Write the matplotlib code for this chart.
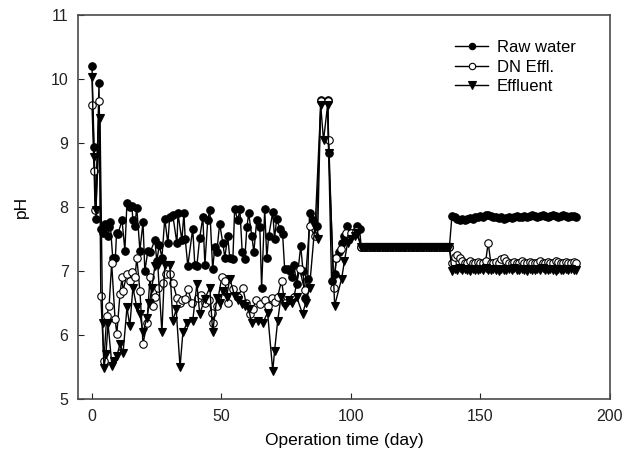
import matplotlib
matplotlib.use("Agg")
import matplotlib.pyplot as plt

plt.rcParams['font.family'] = ['Liberation Sans', 'DejaVu Sans']

# ---------------- data ----------------
raw_day = [0, 0.8, 1.5, 2.7, 3.4, 4.2, 5, 6, 6.5, 7, 8, 9, 9.5, 10, 11.6, 12.7, 13.5, 14.5, 15.4, 15.8,
           16.5, 17.3, 18.5, 19.7, 20.4, 21.6, 22.5, 24.3, 25, 26, 27, 28.1, 29.3, 30, 31.2, 32.8,
           33.2, 34.7, 35.5, 36, 37, 38.9, 39.7, 40.5, 41.6, 42.8, 43.6, 44.7, 45.5, 46.6, 47.4,
           48.2, 49.3, 50.5, 51.3, 52.4, 53.2, 54.4, 55.1, 56.3, 57.1, 58, 59, 59.8, 60.5, 61.7,
           62.5, 63.6, 64.8, 65.5, 66.7, 67.5, 68.2, 69.8, 70.5, 71.3, 72.5, 73.6, 74.4, 75.6,
           76.5, 77.1, 78, 79, 80.6, 81.5, 82.1, 83.3, 84, 85.2, 86.7, 88.4, 91, 91.4, 92.5,
           93.7, 94.4, 95.5, 96.4, 97.5, 98.3, 100, 101.4, 102.5, 103.3]
raw_ph = [10.2, 8.93, 7.82, 9.94, 7.65, 7.6, 7.74, 7.55, 7.68, 7.76, 7.21, 7.2, 7.6, 7.58, 7.79, 7.32, 8.07, 8.0, 8.02, 7.79,
          7.7, 7.99, 7.32, 7.76, 7.0, 7.32, 7.3, 7.48, 7.16, 7.4, 7.21, 7.82, 7.43, 7.85, 7.87, 7.43,
          7.9, 7.48, 7.9, 7.5, 7.08, 7.66, 7.1, 7.08, 7.52, 7.84, 7.1, 7.8, 7.95, 7.03, 7.37,
          7.3, 7.74, 7.44, 7.21, 7.55, 7.2, 7.19, 7.97, 7.79, 7.97, 7.3, 7.19, 7.68, 7.9, 7.55,
          7.3, 7.79, 7.68, 6.74, 7.97, 7.2, 7.54, 7.92, 7.5, 7.82, 7.66, 7.58, 7.03, 7.03,
          7.0, 6.9, 7.1, 6.8, 7.39, 7.0, 6.58, 6.88, 7.9, 7.79, 7.71, 9.67, 9.67, 8.84, 6.85,
          6.96, 7.21, 7.3, 7.44, 7.55, 7.71, 7.6, 7.58, 7.7, 7.66]

dn_day = [0, 0.8, 1.2, 2.8, 3.4, 4.6, 5.7, 6.6, 7.6, 8.9, 9.6, 10.8, 11.6, 12, 13.5, 14.5, 15.4, 16.6,
          17.3, 18.5, 19.7, 21.2, 22.4, 23.5, 24.5, 25.4, 27.4, 28.5, 30, 31.2, 32.8, 33.9, 34.7,
          35.9, 37, 38.6, 40.9, 42.2, 43.6, 45, 46.3, 46.6, 48.2, 50.1, 51.3, 52.4, 54.4, 56.3, 58.2,
          59.5, 60.9, 62, 63.5, 64.8, 66.7, 68, 69.4, 70.5, 71.7, 73.2, 74.4, 76.3, 78, 80.2, 82.1, 84, 86,
          88.4, 91, 91.4, 93.3, 94.4, 96, 98, 100, 102]
dn_ph = [9.6, 8.57, 7.95, 9.65, 6.61, 5.6, 6.3, 6.45, 7.12, 6.25, 6.02, 6.64, 6.9, 6.69, 6.96, 6.85, 6.98, 6.9,
         7.21, 6.69, 5.86, 6.18, 6.9, 6.46, 6.6, 6.74, 6.82, 6.96, 6.96, 6.82, 6.58, 6.5, 6.55,
         6.57, 6.72, 6.5, 6.58, 6.62, 6.5, 6.55, 6.35, 6.19, 6.46, 6.9, 6.85, 6.5, 6.72, 6.6, 6.74,
         6.5, 6.33, 6.4, 6.55, 6.49, 6.55, 6.45, 6.58, 6.52, 6.6, 6.85, 6.5, 6.55, 6.6, 7.03, 6.7, 7.7, 7.55,
         9.65, 9.65, 9.05, 6.73, 7.2, 7.35, 7.6, 7.6, 7.62]

eff_day = [0, 0.8, 1.5, 3.1, 4.1, 4.6, 5.4, 6.2, 7.7, 8.6, 9.6, 10.8, 12, 13.5, 14.6, 15.8, 17.3,
           18.5, 19.7, 21.2, 22.2, 23.1, 24.3, 25.4, 27, 28.1, 30, 31.2, 32.5, 34, 35.1, 36.6, 38.9,
           40.5, 41.6, 43.6, 45.5, 46.6, 48.2, 49.5, 50.5, 52, 53.2, 55.1, 56.5, 57.8, 59, 60.5, 61.7, 64,
           65.9, 67.8, 69.8, 70.5, 71.7, 73, 74.4, 76, 77.1, 79, 81.3, 82.5, 84, 86, 87.1, 88.3, 89.4, 91,
           91.4, 93.7, 96.4, 97.5, 98.7, 100, 101.4, 102.5]
eff_ph = [10.03, 8.78, 7.95, 9.39, 6.18, 5.49, 5.7, 6.18, 5.52, 5.6, 5.67, 5.86, 5.72, 6.43, 6.14, 6.74, 6.43,
          6.33, 6.04, 6.27, 6.5, 6.74, 7.08, 7.1, 6.04, 7.1, 7.1, 6.22, 6.4, 5.5, 6.04, 6.18, 6.22,
          6.8, 6.33, 6.57, 6.74, 6.04, 6.58, 6.5, 6.69, 6.6, 6.88, 6.61, 6.55, 6.49, 6.46, 6.4, 6.18, 6.22,
          6.18, 6.35, 5.44, 5.75, 6.22, 6.6, 6.46, 6.55, 6.5, 6.6, 6.33, 6.5, 6.74, 7.68, 7.5, 9.6, 9.04, 9.6,
          8.84, 6.46, 6.88, 7.16, 7.44, 7.5, 7.55, 7.6]

# plateau period (all three series identical)
flat_day = list(range(104, 139))
flat_ph = [7.37] * len(flat_day)

# final stable period
late_day = list(range(139, 188))
raw_late = [7.86, 7.84, 7.82, 7.80, 7.81, 7.80, 7.82, 7.83, 7.82, 7.84, 7.85, 7.86, 7.85, 7.87,
            7.88, 7.86, 7.85, 7.84, 7.83, 7.84, 7.82, 7.83, 7.84, 7.83, 7.85, 7.86, 7.84, 7.85,
            7.86, 7.85, 7.86, 7.87, 7.86, 7.85, 7.86, 7.87, 7.86, 7.85, 7.86, 7.87, 7.86, 7.85,
            7.86, 7.87, 7.86, 7.85, 7.86, 7.86, 7.85]
dn_late = [7.12, 7.22, 7.25, 7.2, 7.15, 7.13, 7.12, 7.15, 7.13, 7.12, 7.14, 7.12, 7.13, 7.15,
           7.44, 7.13, 7.12, 7.14, 7.13, 7.18, 7.2, 7.15, 7.13, 7.12, 7.14, 7.13, 7.12, 7.15,
           7.13, 7.12, 7.14, 7.13, 7.12, 7.13, 7.15, 7.13, 7.12, 7.14, 7.13, 7.12, 7.15, 7.14,
           7.12, 7.13, 7.14, 7.12, 7.13, 7.14, 7.12]
eff_late = [7.0, 7.03, 7.02, 7.04, 7.01, 7.03, 7.02, 7.0, 7.03, 7.02, 7.01, 7.03, 7.02, 7.04,
            7.02, 7.01, 7.03, 7.02, 7.0, 7.03, 7.02, 7.01, 7.03, 7.02, 7.04, 7.02, 7.01, 7.03,
            7.02, 7.0, 7.03, 7.02, 7.01, 7.03, 7.02, 7.04, 7.02, 7.01, 7.03, 7.02, 7.0, 7.03,
            7.02, 7.01, 7.03, 7.02, 7.03, 7.02, 7.01]

labels = ["Raw water", "DN Effl.", "Effluent"]
x_ticks = [0, 50, 100, 150, 200]
y_ticks = [5, 6, 7, 8, 9, 10, 11]

# ---------------- figure ----------------
fig = plt.figure(figsize=(6.4, 4.59), dpi=100)
ax = fig.add_axes([0.1223, 0.1307, 0.8307, 0.8366])

ms = 5.4
raw_x = raw_day + flat_day + late_day
raw_y = raw_ph + flat_ph + raw_late
dn_x = dn_day + flat_day + late_day
dn_y = dn_ph + flat_ph + dn_late
eff_x = eff_day + flat_day + late_day
eff_y = eff_ph + flat_ph + eff_late

ax.plot(raw_x, raw_y, color='black', lw=1.0, marker='o', ms=ms,
        mfc='black', mec='black', mew=0.8, label=labels[0])
ax.plot(dn_x, dn_y, color='black', lw=1.0, marker='o', ms=ms,
        mfc='white', mec='black', mew=0.8, label=labels[1])
ax.plot(eff_x, eff_y, color='black', lw=1.0, marker='v', ms=ms + 0.8,
        mfc='black', mec='black', mew=0.8, label=labels[2])

ax.set_xlim(-5.3, 200)
ax.set_ylim(5, 11)
ax.set_xticks(x_ticks)
ax.set_yticks(y_ticks)
ax.tick_params(direction='in', length=4, width=0.8, labelsize=11.5, colors='#222222', pad=7)
for s in ax.spines.values():
    s.set_color('#4a4a4a')
    s.set_linewidth(1.2)

ax.set_xlabel("Operation time (day)", fontsize=12.5, labelpad=7)
ax.set_ylabel("pH", fontsize=12.5, labelpad=16)

leg = ax.legend(loc='upper left', bbox_to_anchor=(455 / 640, 1 - 40 / 459),
                bbox_transform=fig.transFigure, frameon=False, borderaxespad=0, borderpad=0,
                fontsize=12, handlelength=2.0, handletextpad=0.5, labelspacing=0.28,
                markerscale=0.85)

fig.savefig("out.png", dpi=100)
